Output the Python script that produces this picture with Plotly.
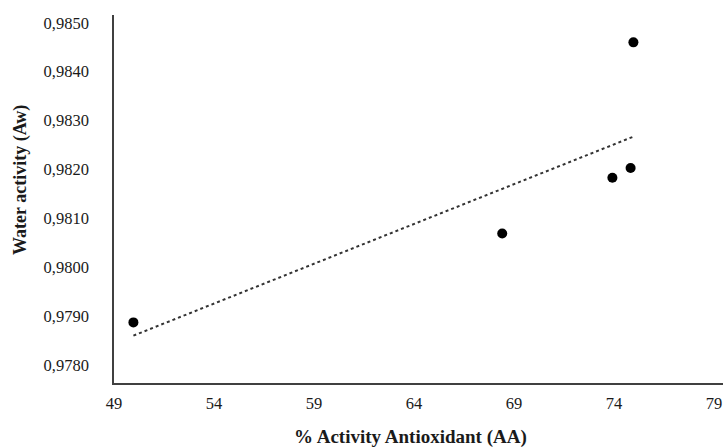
import numpy as np
import plotly.graph_objects as go

# Data
antioxidant_activity = [49.97, 68.41, 73.92, 74.83, 74.97]
water_activity = [0.97887, 0.98069, 0.98183, 0.98203, 0.98460]

x_tick_vals = [49, 54, 59, 64, 69, 74, 79]
y_tick_vals = [0.9780, 0.9790, 0.9800, 0.9810, 0.9820, 0.9830, 0.9840, 0.9850]
y_tick_text = ["0,9780", "0,9790", "0,9800", "0,9810", "0,9820", "0,9830", "0,9840", "0,9850"]

x_title = "% Activity Antioxidant (AA)"
y_title = "Water activity (Aw)"

# Linear trend line (least squares) computed from the data
slope, intercept = np.polyfit(antioxidant_activity, water_activity, 1)
trend_x = [min(antioxidant_activity), max(antioxidant_activity)]
trend_y = [slope * v + intercept for v in trend_x]

FONT = "Liberation Serif, Times New Roman, serif"

fig = go.Figure()
fig.add_trace(go.Scatter(
    x=trend_x, y=trend_y, mode="lines",
    line=dict(color="#333333", width=2, dash="dot"),
    showlegend=False, hoverinfo="skip",
))
fig.add_trace(go.Scatter(
    x=antioxidant_activity, y=water_activity, mode="markers",
    marker=dict(color="black", size=10),
    showlegend=False,
))

fig.update_layout(
    width=723, height=447,
    margin=dict(l=114, r=0, t=15, b=64),
    paper_bgcolor="white", plot_bgcolor="white",
    font=dict(family=FONT, size=16, color="#1a1a1a"),
    xaxis=dict(
        range=[49, 79.45], tickvals=x_tick_vals,
        showgrid=False, zeroline=False,
        showline=True, linecolor="#404040", linewidth=1.5,
        ticks="", ticklabelstandoff=4,
        tickfont=dict(family=FONT, size=16.5, color="#1a1a1a"),
    ),
    yaxis=dict(
        range=[0.97763, 0.98516], tickvals=y_tick_vals, ticktext=y_tick_text,
        showgrid=False, zeroline=False,
        showline=True, linecolor="#404040", linewidth=1.5,
        ticks="", ticklabelstandoff=20,
        tickfont=dict(family=FONT, size=16.5, color="#1a1a1a"),
    ),
    annotations=[
        dict(text="<b>" + x_title + "</b>", xref="paper", yref="paper",
             x=(410 - 114) / 609, y=-(437 - 383) / 368, xanchor="center", yanchor="middle",
             showarrow=False, font=dict(family=FONT, size=19, color="#1a1a1a")),
        dict(text="<b>" + y_title + "</b>", xref="paper", yref="paper",
             x=-(114 - 20) / 609, y=(383 - 180) / 368, xanchor="center", yanchor="middle",
             textangle=-90, showarrow=False,
             font=dict(family=FONT, size=18, color="#1a1a1a")),
    ],
)

fig.write_html("out.html")
